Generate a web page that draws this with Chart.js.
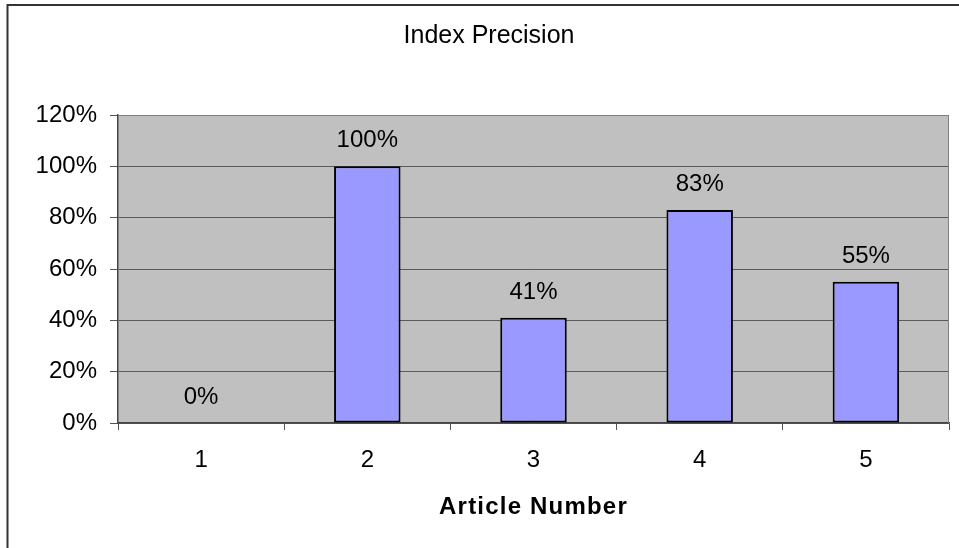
<!DOCTYPE html>
<html>
<head>
<meta charset="utf-8">
<title>Index Precision</title>
<script src="https://cdn.jsdelivr.net/npm/chart.js@4/dist/chart.umd.min.js"></script>
<style>
  html, body { margin: 0; padding: 0; background: #fff; }
  #wrap { width: 959px; height: 548px; position: relative; }
</style>
</head>
<body>
<div id="wrap"><canvas id="chart"></canvas></div>
<script>
// Article numbers along the category axis
const articles = ['1', '2', '3', '4', '5'];
// Precision per article, as fractions of 1
const precision = [0.00, 1.00, 0.41, 0.83, 0.55];
// Value axis range and step
const yMin = 0;
const yMax = 1.2;
const yStep = 0.2;

const chartTitle = 'Index Precision';
const xTitle = 'Article Number';

const FONT = '"Liberation Sans", Arial, Helvetica, sans-serif';
const pct = v => Math.round(v * 100) + '%';

// Gray plot area with a light border on its top and right sides
const plotArea = {
  id: 'plotArea',
  beforeDraw(chart) {
    const { ctx, chartArea: a } = chart;
    ctx.save();
    ctx.fillStyle = '#c0c0c0';
    ctx.fillRect(a.left, a.top, a.right - a.left, a.bottom - a.top);
    ctx.restore();
  },
  afterDraw(chart) {
    const { ctx, chartArea: a } = chart;
    ctx.save();
    ctx.strokeStyle = '#808080';
    ctx.lineWidth = 1;
    ctx.beginPath();
    ctx.moveTo(Math.round(a.left), Math.round(a.top) + 0.5);
    ctx.lineTo(Math.round(a.right) - 0.5, Math.round(a.top) + 0.5);
    ctx.lineTo(Math.round(a.right) - 0.5, Math.round(a.bottom));
    ctx.stroke();
    ctx.restore();
  }
};

// Frame around the whole chart, and the category axis caption
const frame = {
  id: 'frame',
  afterDraw(chart) {
    const { ctx, chartArea: a } = chart;
    ctx.save();
    ctx.strokeStyle = '#333';
    ctx.lineWidth = 2;
    ctx.beginPath();
    ctx.moveTo(7.5, chart.height);
    ctx.lineTo(7.5, 5);
    ctx.lineTo(chart.width, 5);
    ctx.stroke();

    ctx.fillStyle = '#000';
    ctx.font = 'bold 24px ' + FONT;
    ctx.textAlign = 'center';
    ctx.textBaseline = 'middle';
    if ('letterSpacing' in ctx) ctx.letterSpacing = '1.2px';
    ctx.fillText(xTitle, (a.left + a.right) / 2, 507);
    ctx.restore();
  }
};

// Value labels above each bar
const valueLabels = {
  id: 'valueLabels',
  afterDatasetsDraw(chart) {
    const { ctx } = chart;
    const meta = chart.getDatasetMeta(0);
    ctx.save();
    ctx.fillStyle = '#000';
    ctx.font = '24px ' + FONT;
    ctx.textAlign = 'center';
    ctx.textBaseline = 'alphabetic';
    meta.data.forEach((bar, i) => {
      ctx.fillText(pct(precision[i]), bar.x, bar.y - 19);
    });
    ctx.restore();
  }
};

new Chart(document.getElementById('chart'), {
  type: 'bar',
  data: {
    labels: articles,
    datasets: [{
      data: precision,
      backgroundColor: '#9999ff',
      borderColor: '#000',
      borderWidth: c => (c.raw === 0 ? 0 : 2),
      borderSkipped: false,
      barPercentage: 0.4,
      categoryPercentage: 1.0
    }]
  },
  options: {
    responsive: true,
    maintainAspectRatio: false,
    animation: false,
    events: [],
    layout: { padding: { top: 0, left: 29, right: 10, bottom: 0 } },
    plugins: {
      legend: { display: false },
      tooltip: { enabled: false },
      title: {
        display: true,
        text: chartTitle,
        color: '#000',
        font: { family: FONT, size: 25, weight: 'normal', lineHeight: 1.2 },
        padding: { top: 21.6, bottom: 63.4 }
      }
    },
    scales: {
      x: {
        grid: {
          display: true,
          drawOnChartArea: false,
          drawTicks: true,
          tickLength: 7,
          tickColor: '#555',
          tickWidth: 1,
          offset: true
        },
        border: { display: true, color: '#444', width: 1.5 },
        ticks: {
          color: '#000',
          padding: 15.6,
          font: { family: FONT, size: 24, lineHeight: 1.2 },
          maxRotation: 0
        },
        afterFit(scale) { scale.height = 125; }
      },
      y: {
        min: yMin,
        max: yMax,
        grid: {
          color: '#5a5a5a',
          lineWidth: 1,
          drawTicks: true,
          tickLength: 8,
          tickColor: '#555'
        },
        border: { display: true, color: '#444', width: 1.5 },
        ticks: {
          stepSize: yStep,
          color: '#000',
          padding: 13,
          font: { family: FONT, size: 24, lineHeight: 1.2 },
          callback: v => pct(v)
        },
        afterFit(scale) { scale.width = 89; }
      }
    }
  },
  plugins: [plotArea, valueLabels, frame]
});
</script>
</body>
</html>
